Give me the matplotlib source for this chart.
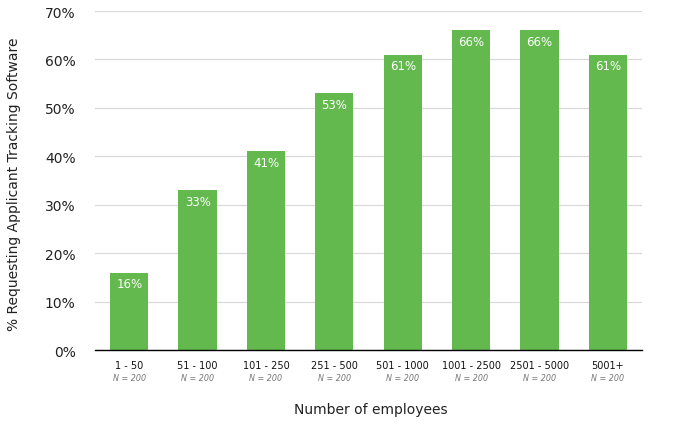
import numpy as np
import matplotlib.pyplot as plt

categories = ['1 - 50', '51 - 100', '101 - 250', '251 - 500', '501 - 1000',
              '1001 - 2500', '2501 - 5000', '5001+']
values = [16, 33, 41, 53, 61, 66, 66, 61]
sample_sizes = [200, 200, 200, 200, 200, 200, 200, 200]

bar_color = '#63b94e'

fig = plt.figure(figsize=(6.79, 4.35), dpi=100)
ax = fig.add_axes([0.140, 0.193, 0.8055, 0.7794])

x = np.arange(len(categories))
bars = ax.bar(x, values, width=0.56, color=bar_color, zorder=3)

for xi, v in zip(x, values):
    ax.text(xi, v - 1.0, f'{v}%', ha='center', va='top', color='white',
            fontsize=8.5, zorder=4)

ax.set_xlim(-0.5, len(categories) - 0.5)
ax.set_ylim(0, 70)
ax.set_yticks(np.arange(0, 71, 10))
ax.set_yticklabels([f'{t}%' for t in range(0, 71, 10)], fontsize=10, color='#222222')
ax.yaxis.grid(True, color='#d9d9d9', linewidth=0.9, zorder=0)
ax.tick_params(axis='y', length=0, pad=14)

ax.set_xticks(x)
ax.set_xticklabels([])
ax.tick_params(axis='x', length=0)
for xi, cat, n in zip(x, categories, sample_sizes):
    ax.annotate(cat, (xi, 0), xytext=(0, -10.5), textcoords='offset points',
                ha='center', va='center', fontsize=7, color='#111111')
    ax.annotate(f'N = {n}', (xi, 0), xytext=(0, -20), textcoords='offset points',
                ha='center', va='center', fontsize=5.8, color='#777777', style='italic')

for s in ['top', 'right', 'left']:
    ax.spines[s].set_visible(False)
ax.spines['bottom'].set_color('black')
ax.spines['bottom'].set_linewidth(1.0)
ax.spines['bottom'].set_zorder(5)

fig.text(0.546, 1 - 410 / 435, 'Number of employees', ha='center', va='center',
         fontsize=10, color='#222222')
fig.text(0.020, 0.577, '% Requesting Applicant Tracking Software', rotation=90,
         ha='center', va='center', fontsize=10, color='#222222')

fig.savefig('out.png', dpi=100)
